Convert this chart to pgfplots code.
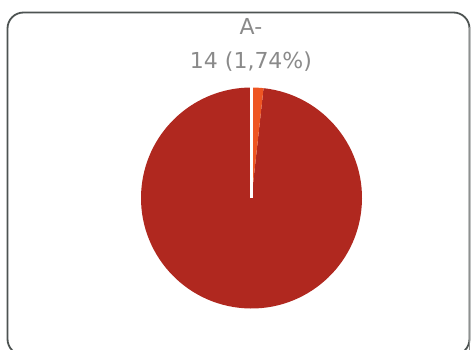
\documentclass[border=0pt]{standalone}
\usepackage{pgfplots}
\pgfplotsset{compat=1.18}
\usepackage{pgfplotstable}
\usepackage{fontspec}
\setmainfont{DejaVu Sans}
\definecolor{slicemain}{HTML}{B0281F}
\definecolor{slicesmall}{HTML}{EE5522}
\definecolor{labelgray}{HTML}{8A8A8A}
\definecolor{framedark}{HTML}{4D5352}
\definecolor{framelight}{HTML}{8E9190}

% blood group counts
\pgfplotstableread{
label value
A- 14
Other 791
}\bloodtable

\begin{document}
\begin{tikzpicture}[x=1pt,y=1pt]
\useasboundingbox (0,0) rectangle (472,349);
\begin{scope}
  \clip (0,0) rectangle (472,349);
  \draw[framedark, line width=1.8pt, rounded corners=16pt] (7.5,336.5) rectangle (469.5,-6);
  \draw[framelight, line width=1.6pt] (469.5,322) -- (469.5,-6);
\end{scope}

\pgfplotstablegetelem{0}{value}\of\bloodtable \let\va\pgfplotsretval
\pgfplotstablegetelem{1}{value}\of\bloodtable \let\vb\pgfplotsretval
\pgfmathsetmacro\total{\va+\vb}
\pgfmathsetmacro\angA{360*\va/\total}
\pgfmathsetmacro\endA{90-\angA}
\pgfmathsetmacro\pct{100*\va/\total}

\node[labelgray, font=\fontsize{22}{26}\selectfont, anchor=base] at (251,314) {A-};
\node[labelgray, font=\fontsize{22}{26}\selectfont, anchor=base] at (251,280)
  {\va\ (\pgfmathprintnumber[fixed, fixed zerofill, precision=2, use comma, assume math mode=true]{\pct}\%)};

\begin{axis}[at={(251.5,151)}, anchor=center, x=1pt, y=1pt,
  xmin=-111, xmax=111, ymin=-111, ymax=111,
  hide axis, scale only axis, clip=false]
  % large slice
  \fill[slicemain] (axis cs:0,0) -- (axis cs:{110.5*cos(\endA)},{110.5*sin(\endA)})
    arc[start angle=\endA, end angle=-270, radius=110.5pt] -- cycle;
  % small slice
  \fill[slicesmall] (axis cs:0,0) -- (axis cs:0,110.5)
    arc[start angle=90, end angle=\endA, radius=110.5pt] -- cycle;
  \draw[white, line width=2.5pt] (axis cs:0,0) -- (axis cs:0,110.5);
\end{axis}
\end{tikzpicture}
\end{document}
